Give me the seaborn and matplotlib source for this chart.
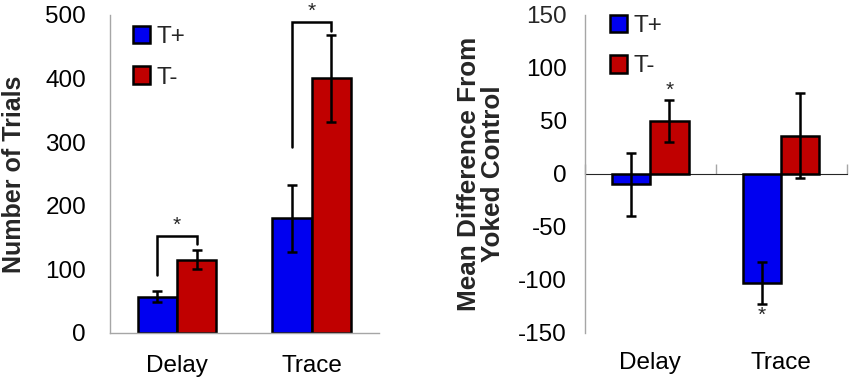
import matplotlib
matplotlib.use("Agg")
import matplotlib.pyplot as plt
import seaborn as sns
import pandas as pd
from matplotlib.patches import Patch

# ---- data ----
conditions = ["Delay", "Trace"]
groups = ["T+", "T-"]
trials_tplus = [57, 180]
trials_tminus = [115, 400]
trials_err_tplus = [9, 53]
trials_err_tminus = [15, 69]
# significance brackets (left panel): top, left-leg bottom, right-leg bottom
bracket_top = [152, 489]
bracket_left_bottom = [91, 292]
bracket_right_bottom = [140, 474]

diff_tplus = [-10, -103]
diff_tminus = [50, 36]
diff_err_tplus = [30, 20]
diff_err_tminus = [20, 40]
# stars on right panel: (group, condition index)
diff_stars = [("T-", 0), ("T+", 1)]

left_yticks = [0, 100, 200, 300, 400, 500]
right_yticks = [-150, -100, -50, 0, 50, 100, 150]

colors = {"T+": "#0000f0", "T-": "#c00000"}
spine_gray = "#a6a6a6"

sns.set_style("white")
plt.rcParams["font.family"] = ["Liberation Sans", "DejaVu Sans"]
plt.rcParams["axes.unicode_minus"] = False

df_left = pd.DataFrame({
    "cond": conditions * 2,
    "group": ["T+"] * 2 + ["T-"] * 2,
    "val": trials_tplus + trials_tminus,
    "err": trials_err_tplus + trials_err_tminus,
})
df_right = pd.DataFrame({
    "cond": conditions * 2,
    "group": ["T+"] * 2 + ["T-"] * 2,
    "val": diff_tplus + diff_tminus,
    "err": diff_err_tplus + diff_err_tminus,
})

fig = plt.figure(figsize=(8.5, 3.8), dpi=100)
axL = fig.add_axes([0.129, 0.124, 0.317, 0.837])
axR = fig.add_axes([0.688, 0.124, 0.308, 0.837])

TICK_FS = 17.5
LABEL_FS = 18


def draw_bars(ax, df):
    sns.barplot(data=df, x="cond", y="val", hue="group", order=conditions,
                hue_order=groups, palette=colors, edgecolor="black",
                linewidth=1.8, width=0.585, errorbar=None, legend=False,
                saturation=1, ax=ax)
    centers = {}
    for g, cont in zip(groups, ax.containers):
        sub = df[df.group == g].set_index("cond").loc[conditions]
        xs = [b.get_x() + b.get_width() / 2 for b in cont]
        centers[g] = xs
        ax.errorbar(xs, sub["val"].values, yerr=sub["err"].values, fmt="none",
                    ecolor="black", elinewidth=1.8, capsize=3.5, capthick=1.8,
                    zorder=5)
    return centers


def style_axis(ax):
    ax.set_xlim(-0.5, 1.5)
    ax.set_xlabel("")
    for s in ["top", "right"]:
        ax.spines[s].set_visible(False)
    ax.spines["left"].set_color(spine_gray)
    ax.spines["left"].set_linewidth(1.0)
    ax.tick_params(axis="y", which="major", direction="out", length=5,
                   width=1, color=spine_gray, labelsize=TICK_FS, pad=3)
    ax.tick_params(axis="x", which="major", length=0, labelsize=TICK_FS)
    for lab in ax.get_xticklabels() + ax.get_yticklabels():
        lab.set_color("black")


def add_legend(ax, anchor):
    handles = [Patch(facecolor=colors[g], edgecolor="black", linewidth=1.8,
                     label=g) for g in groups]
    ax.legend(handles=handles, loc="upper left", bbox_to_anchor=anchor,
              frameon=False, fontsize=TICK_FS, handlelength=0.72,
              handleheight=0.72, handletextpad=0.25, labelspacing=0.75,
              borderaxespad=0, borderpad=0)


# ---------- left panel ----------
cL = draw_bars(axL, df_left)
style_axis(axL)
axL.set_ylim(0, 500)
axL.set_yticks(left_yticks)
axL.spines["bottom"].set_color(spine_gray)
axL.spines["bottom"].set_linewidth(1.0)
axL.set_xticks([-0.5, 0.5, 1.5], minor=True)
axL.tick_params(axis="x", which="minor", direction="out", length=7, width=1,
                color=spine_gray)
axL.tick_params(axis="x", which="major", pad=16)
axL.tick_params(axis="y", pad=12)
axL.set_ylabel("Number of Trials", fontsize=LABEL_FS, fontweight="bold")
axL.yaxis.set_label_coords(-0.312, 0.5)

for i in range(len(conditions)):
    xl = cL["T+"][i]
    xr = cL["T-"][i]
    axL.plot([xl, xl, xr, xr],
             [bracket_left_bottom[i], bracket_top[i], bracket_top[i],
              bracket_right_bottom[i]],
             color="black", lw=1.8, clip_on=False, solid_joinstyle="miter")
    axL.annotate("*", xy=((xl + xr) / 2, bracket_top[i]), xytext=(0, 1),
                 textcoords="offset points", ha="center", va="bottom",
                 fontsize=15, annotation_clip=False)
add_legend(axL, (0.085, 0.965))

# ---------- right panel ----------
cR = draw_bars(axR, df_right)
style_axis(axR)
axR.set_ylim(-150, 150)
axR.set_yticks(right_yticks)
axR.spines["bottom"].set_visible(False)
axR.tick_params(axis="x", which="major", pad=14)
axR.tick_params(axis="y", pad=8)
sec = axR.secondary_xaxis(0.5)
sec.set_xticks([-0.5, 0.5, 1.5])
sec.set_xticklabels([])
sec.spines["bottom"].set_color(spine_gray)
sec.spines["bottom"].set_linewidth(1.0)
sec.tick_params(axis="x", direction="out", length=7, width=1,
                color=spine_gray)
axR.set_ylabel("Mean Difference From\nYoked Control", fontsize=18.8,
               fontweight="bold", linespacing=1.0)
axR.yaxis.set_label_coords(-0.305, 0.5)

for g, ci in diff_stars:
    sub = df_right[(df_right.group == g) & (df_right.cond == conditions[ci])]
    v = float(sub["val"].iloc[0])
    e = float(sub["err"].iloc[0])
    x = cR[g][ci]
    if v >= 0:
        axR.annotate("*", xy=(x, v + e), xytext=(0, 0),
                     textcoords="offset points", ha="center", va="bottom",
                     fontsize=15)
    else:
        axR.annotate("*", xy=(x, v - e), xytext=(0, -1),
                     textcoords="offset points", ha="center", va="top",
                     fontsize=15)
add_legend(axR, (0.095, 1.0))

fig.savefig("out.png", dpi=100)
